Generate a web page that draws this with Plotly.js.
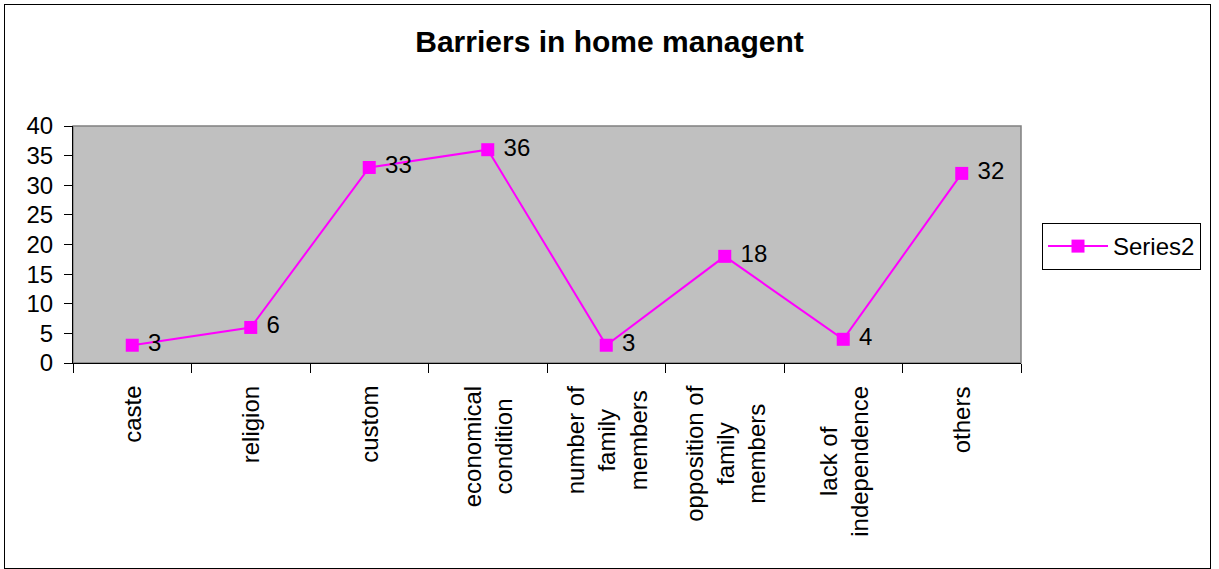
<!DOCTYPE html>
<html>
<head>
<meta charset="utf-8">
<script src="https://cdn.plot.ly/plotly-3.0.1.min.js"></script>
<style>
  html, body { margin: 0; padding: 0; background: #fff; }
  #wrap { position: relative; width: 1219px; height: 569px; }
  #chart { position: absolute; left: 0; top: 0; width: 1219px; height: 569px; }
  #frame { position: absolute; left: 4px; top: 4px; width: 1205px; height: 563px; border: 1.5px solid #000; pointer-events: none; }
</style>
</head>
<body>
<div id="wrap">
  <div id="chart"></div>
  <div id="frame"></div>
</div>
<script>
const categories = [
  "caste",
  "religion",
  "custom",
  "economical<br>condition",
  "number of<br>family<br>members",
  "opposition of<br>family<br>members",
  "lack of<br>independence",
  "others"
];
const series2 = [3, 6, 33, 36, 3, 18, 4, 32];
const seriesName = "Series2";
const chartTitle = "Barriers in home managent";

const FONT = "Liberation Sans, Arial, sans-serif";

const trace = {
  type: "scatter",
  mode: "lines+markers+text",
  x: categories,
  y: series2,
  name: seriesName,
  text: series2.map(v => "\u00a0" + v),
  textposition: "middle right",
  textfont: { family: FONT, size: 24, color: "#000" },
  line: { color: "#FF00FF", width: 2 },
  marker: { symbol: "square", size: 13, color: "#FF00FF" },
  cliponaxis: false,
  hoverinfo: "x+y"
};

// category labels drawn centred under each category (multi-line, centre-aligned)
const catAnnotations = categories.map(c => ({
  x: c,
  xref: "x",
  y: 0,
  yref: "paper",
  yshift: -21,
  text: c,
  textangle: -90,
  align: "center",
  xanchor: "center",
  yanchor: "top",
  showarrow: false,
  font: { family: FONT, size: 24, color: "#000" }
}));

const layout = {
  width: 1219,
  height: 569,
  margin: { l: 73, r: 198, t: 126, b: 206 },
  paper_bgcolor: "#ffffff",
  plot_bgcolor: "#C0C0C0",
  font: { family: FONT, size: 24, color: "#000" },
  title: {
    text: "<b>" + chartTitle + "</b>",
    font: { family: FONT, size: 30, color: "#000" },
    xref: "container", x: 0.5, xanchor: "center",
    yref: "container", y: 1 - 41 / 569, yanchor: "middle"
  },
  xaxis: {
    type: "category",
    range: [-0.5, categories.length - 0.5],
    tickson: "boundaries",
    ticks: "outside",
    ticklen: 9,
    tickwidth: 1,
    tickcolor: "#000",
    showticklabels: false,
    showline: true,
    linecolor: "#000",
    linewidth: 1,
    showgrid: false,
    zeroline: false
  },
  yaxis: {
    range: [0, 40],
    dtick: 5,
    ticks: "outside",
    ticklen: 8,
    tickwidth: 1,
    tickcolor: "#000",
    showline: true,
    linecolor: "#000",
    linewidth: 1,
    showgrid: false,
    zeroline: false,
    ticklabelstandoff: 6,
    tickfont: { family: FONT, size: 24, color: "#000" }
  },
  showlegend: true,
  legend: {
    x: (1042 - 73) / 948,
    xanchor: "left",
    y: (363 - 223) / 237,
    yanchor: "top",
    bgcolor: "#ffffff",
    bordercolor: "#000",
    borderwidth: 1,
    itemwidth: 60,
    font: { family: FONT, size: 24, color: "#000" }
  },
  annotations: catAnnotations,
  shapes: [
    {
      type: "rect",
      xref: "x domain", yref: "y domain",
      x0: 0, x1: 1, y0: 0, y1: 1,
      line: { color: "#808080", width: 1.5 },
      layer: "below"
    }
  ]
};

Plotly.newPlot("chart", [trace], layout, { displayModeBar: false, staticPlot: true });
</script>
</body>
</html>
